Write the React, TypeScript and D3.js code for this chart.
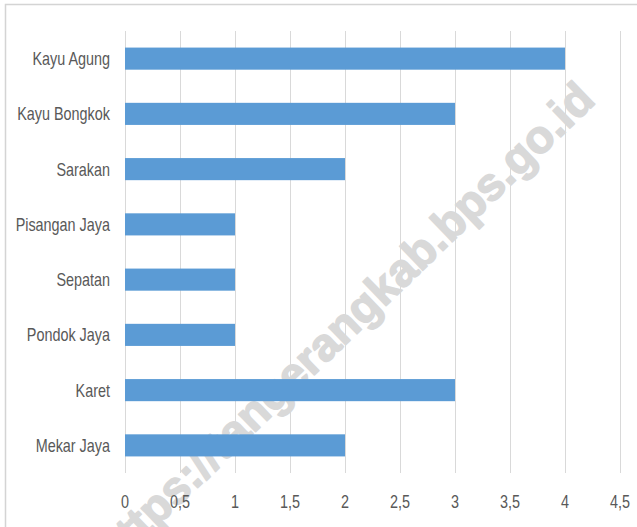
import React from "react";
import * as d3 from "d3";

const categories = ["Kayu Agung", "Kayu Bongkok", "Sarakan", "Pisangan Jaya", "Sepatan", "Pondok Jaya", "Karet", "Mekar Jaya"];
const values = [4, 3, 2, 1, 1, 1, 3, 2];
const xTicks = [0, 0.5, 1, 1.5, 2, 2.5, 3, 3.5, 4, 4.5];

const W = 637;
const H = 527;
const left = 125;
const right = 620;
const top = 31;
const bottom = 473;
const FONT = "'Liberation Sans', Arial, sans-serif";
const SX = 0.8;

export default function App() {
  const x = d3.scaleLinear().domain([0, 4.5]).range([left, right]);
  const y = d3.scaleBand<string>().domain(categories).range([top, bottom]).paddingInner(0.6).paddingOuter(0.3);
  const fmt = (v: number) => String(v).replace(".", ",");
  return (
    <svg width={W} height={H} style={{ position: "absolute", left: 0, top: 0 }}>
      <rect x={0} y={0} width={W} height={H} fill="#ffffff" />
      <rect x={5.5} y={4.5} width={W + 50} height={H + 50} fill="#ffffff" stroke="#d4d4d4" strokeWidth={1.5} />
      <text
        x={597}
        y={102}
        transform="rotate(-44 597 102)"
        textAnchor="end"
        fontFamily="'Liberation Sans', Arial, sans-serif"
        fontWeight="bold"
        fontSize={46}
        fill="#d9d9d9"
        stroke="#d9d9d9"
        strokeWidth={1.5}
        strokeLinejoin="round"
      >
        https://tangerangkab.bps.go.id
      </text>
      {xTicks.map((t) => (
        <line key={"g" + t} x1={Math.round(x(t)) + 0.5} x2={Math.round(x(t)) + 0.5} y1={top} y2={bottom} stroke="#d9d9d9" strokeWidth={1} />
      ))}
      {categories.map((c, i) => (
        <rect key={c} x={x(0)} y={y(c)!} width={x(values[i]) - x(0)} height={y.bandwidth()} fill="#5b9bd5" />
      ))}
      {categories.map((c) => (
        <g key={"l" + c} transform={`translate(${left - 15},${y(c)! + y.bandwidth() / 2}) scale(${SX},1)`}>
          <text x={0} y={0} dy="0.36em" textAnchor="end" fontFamily={FONT} fontSize={18} fill="#595959">
            {c}
          </text>
        </g>
      ))}
      {xTicks.map((t) => (
        <g key={"t" + t} transform={`translate(${x(t)},502) scale(${SX},1)`}>
          <text x={0} y={0} dy="0.36em" textAnchor="middle" fontFamily={FONT} fontSize={18} fill="#595959">
            {fmt(t)}
          </text>
        </g>
      ))}
    </svg>
  );
}
